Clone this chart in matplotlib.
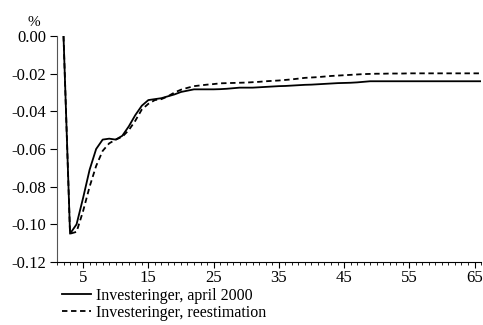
import numpy as np
import matplotlib.pyplot as plt
from matplotlib.ticker import MultipleLocator

plt.rcParams["font.family"] = ["Liberation Serif", "DejaVu Serif"]

periods = np.arange(2, 67)
april_2000 = [
    0.0, -0.105, -0.100, -0.086, -0.071, -0.060, -0.055, -0.0545, -0.055, -0.053,
    -0.048, -0.042, -0.037, -0.034, -0.0335, -0.033, -0.032, -0.031, -0.0297, -0.029,
    -0.0283, -0.0283, -0.0283, -0.0283, -0.0282, -0.028, -0.0277, -0.0274, -0.0274, -0.0274,
    -0.0272, -0.027, -0.0268, -0.0266, -0.0265, -0.0263, -0.0261, -0.0259, -0.0258, -0.0256,
    -0.0254, -0.0252, -0.025, -0.0249, -0.0248, -0.0246, -0.0243, -0.024, -0.024, -0.024,
    -0.024, -0.024, -0.024, -0.024, -0.024, -0.024, -0.024, -0.024, -0.024, -0.024,
    -0.024, -0.024, -0.024, -0.024, -0.024,
]
reestimation = [
    0.0, -0.105, -0.104, -0.093, -0.080, -0.069, -0.061, -0.057, -0.055, -0.0535,
    -0.050, -0.045, -0.039, -0.036, -0.034, -0.0335, -0.032, -0.030, -0.0285, -0.0275,
    -0.0266, -0.0262, -0.0258, -0.0255, -0.0251, -0.025, -0.0249, -0.0248, -0.0247, -0.0245,
    -0.0243, -0.024, -0.0238, -0.0236, -0.0233, -0.023, -0.0226, -0.0222, -0.022, -0.0218,
    -0.0215, -0.0212, -0.021, -0.0208, -0.0206, -0.0204, -0.0202, -0.0201, -0.020, -0.020,
    -0.0199, -0.0199, -0.0199, -0.0198, -0.0198, -0.0198, -0.0198, -0.0198, -0.0198, -0.0198,
    -0.0198, -0.0198, -0.0198, -0.0198, -0.0198,
]

fig = plt.figure(figsize=(4.83, 3.25), dpi=100)
ax = fig.add_axes([0.118, 0.194, 0.878, 0.695])

ax.plot(periods, april_2000, "-", color="black", linewidth=1.3,
        label="Investeringer, april 2000")
ax.plot(periods, reestimation, "--", color="black", linewidth=1.3, dashes=(3, 2),
        label="Investeringer, reestimation")

ax.set_xlim(1, 66)
ax.set_ylim(-0.12, 0)
ax.xaxis.set_major_locator(MultipleLocator(10, offset=5))
ax.xaxis.set_minor_locator(MultipleLocator(1))
ax.yaxis.set_major_locator(MultipleLocator(0.02))
ax.yaxis.set_major_formatter(lambda v, p: f"{v:.2f}")

for s in ["top", "right"]:
    ax.spines[s].set_visible(False)
ax.spines["left"].set_color("#555555")
ax.tick_params(axis="both", labelsize=12, direction="out", width=0.8)
ax.tick_params(axis="x", which="major", length=4, pad=2)
ax.tick_params(axis="x", which="minor", length=2)
ax.tick_params(axis="y", length=5, pad=3)

ax.text(-0.055, 1.03, "%", transform=ax.transAxes, fontsize=11, ha="center", va="bottom")

ax.legend(loc="upper left", bbox_to_anchor=(0.012, -0.115), frameon=False, fontsize=11.5,
          handlelength=1.8, handletextpad=0.3, labelspacing=0.05, borderaxespad=0,
          borderpad=0)

fig.savefig("out.png", dpi=100)
